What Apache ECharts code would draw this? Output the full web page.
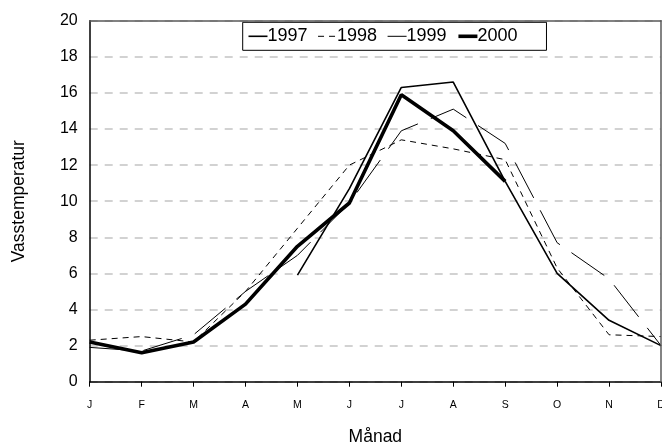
<!DOCTYPE html>
<html>
<head>
<meta charset="utf-8">
<script src="https://cdn.jsdelivr.net/npm/echarts@6/dist/echarts.min.js"></script>
<style>
  html, body { margin: 0; padding: 0; background: #fff; }
  #chart { width: 662px; height: 443px; }
</style>
</head>
<body>
<div id="chart"></div>
<script>
// Månadsvis vattentemperatur, fyra år
const months = ['J', 'F', 'M', 'A', 'M', 'J', 'J', 'A', 'S', 'O', 'N', 'D'];
const yTicks = [0, 2, 4, 6, 8, 10, 12, 14, 16, 18, 20];

const y1997 = [null, null, null, null, 5.9, 10.7, 16.3, 16.6, 11.1, 6.0, 3.4, 2.0];
const y1998 = [2.3, 2.5, 2.2, 5.0, 8.5, 12.0, 13.4, 12.9, 12.3, 6.3, 2.6, 2.5];
const y1999 = [1.9, 1.7, 2.6, 5.0, 7.0, 9.9, 13.9, 15.1, 13.2, 7.7, 5.7, 2.0];
const y2000 = [2.2, 1.6, 2.2, 4.3, 7.5, 9.9, 15.9, 13.9, 11.1, null, null, null];

const font = 'Liberation Sans, Arial, sans-serif';

// line width and dash pattern per year
const styles = {
  '1997': { width: 1.6, type: 'solid' },
  '1998': { width: 1, type: [6, 5] },
  '1999': { width: 1, type: [40, 14] },
  '2000': { width: 3.6, type: 'solid' }
};

function lineSeries(name, data) {
  return {
    name: name,
    type: 'line',
    data: data,
    symbol: 'none',
    connectNulls: false,
    animation: false,
    lineStyle: { color: '#000', width: styles[name].width, type: styles[name].type },
    itemStyle: { color: '#000' },
    emphasis: { disabled: true }
  };
}

// grey frame on the top and right side of the plot
const frameAxis = {
  show: true,
  axisLine: { show: true, onZero: false, lineStyle: { color: '#5a5a5a', width: 1.5 } },
  axisTick: { show: false },
  axisLabel: { show: false },
  splitLine: { show: false },
  z: 5
};

const chart = echarts.init(document.getElementById('chart'), null, { renderer: 'canvas' });
chart.setOption({
  backgroundColor: '#fff',
  animation: false,
  grid: {
    left: 89.7, right: 1, top: 20.7, bottom: 61.3,
    containLabel: false,
    outerBoundsMode: 'none',
    show: false
  },
  legend: {
    left: 242.7, top: 22.3,
    padding: [5, 29, 5, 5],
    itemGap: 10,
    itemWidth: 19, itemHeight: 16,
    backgroundColor: '#fff',
    borderColor: '#000', borderWidth: 1,
    itemStyle: { opacity: 0, borderWidth: 0 },
    textStyle: { fontFamily: font, fontSize: 18, color: '#000', padding: [0, 0, 0, -5] },
    data: ['1997', '1998', '1999', '2000'].map(function (n) {
      return { name: n, lineStyle: { color: '#000', width: styles[n].width, type: styles[n].type } };
    })
  },
  xAxis: [{
    type: 'category',
    data: months,
    boundaryGap: false,
    name: 'Månad',
    nameLocation: 'middle',
    nameGap: 46,
    nameTextStyle: { fontFamily: font, fontSize: 17.5, color: '#000' },
    axisLine: { lineStyle: { color: '#000', width: 1.5 } },
    axisTick: { show: true, alignWithLabel: true, length: 5, lineStyle: { color: '#000', width: 1 } },
    axisLabel: { fontFamily: font, fontSize: 10.5, color: '#000', margin: 18, interval: 0 },
    splitLine: { show: false }
  }, Object.assign({
    type: 'category', data: months, boundaryGap: false, position: 'top'
  }, frameAxis)],
  yAxis: [{
    type: 'value',
    min: yTicks[0], max: yTicks[yTicks.length - 1], interval: 2,
    name: 'Vasstemperatur',
    nameLocation: 'middle',
    nameGap: 62,
    nameRotate: 90,
    nameTextStyle: { fontFamily: font, fontSize: 17.5, color: '#000' },
    axisLine: { show: true, lineStyle: { color: '#000', width: 1.5 } },
    axisTick: { show: false },
    axisLabel: { fontFamily: font, fontSize: 16, color: '#000', margin: 12 },
    splitLine: { show: true, lineStyle: { color: '#c4c4c4', width: 1.5, type: [8, 7] } }
  }, Object.assign({
    type: 'value', min: yTicks[0], max: yTicks[yTicks.length - 1], interval: 2, position: 'right'
  }, frameAxis)],
  series: [
    lineSeries('1997', y1997),
    lineSeries('1998', y1998),
    lineSeries('1999', y1999),
    lineSeries('2000', y2000)
  ]
});
</script>
</body>
</html>
